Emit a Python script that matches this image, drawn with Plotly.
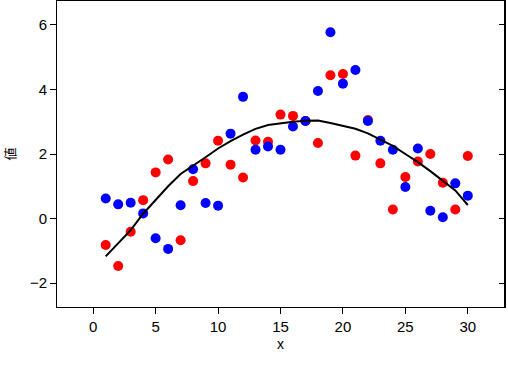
import plotly.graph_objects as go

x_vals = list(range(1, 31))
blue_y = [0.62, 0.44, 0.49, 0.16, -0.61, -0.94, 0.41, 1.53, 0.48, 0.40,
          2.63, 3.77, 2.13, 2.23, 2.13, 2.85, 3.02, 3.95, 5.77, 4.18,
          4.60, 3.02, 2.41, 2.13, 0.98, 2.17, 0.24, 0.04, 1.09, 0.71]
red_y = [-0.82, -1.47, -0.41, 0.57, 1.43, 1.83, -0.67, 1.16, 1.71, 2.41,
         1.67, 1.27, 2.42, 2.38, 3.22, 3.18, 3.02, 2.34, 4.44, 4.48,
         1.95, 3.05, 1.71, 0.28, 1.29, 1.77, 2.00, 1.11, 0.28, 1.94]
curve_y = [-1.17, -0.76, -0.36, 0.15, 0.58, 1.00, 1.38, 1.63, 1.90, 2.17,
           2.40, 2.60, 2.78, 2.90, 2.96, 3.00, 3.03, 3.04, 2.96, 2.88,
           2.78, 2.64, 2.44, 2.25, 2.00, 1.75, 1.47, 1.17, 0.87, 0.42]
x_ticks = [0, 5, 10, 15, 20, 25, 30]
y_ticks = [-2, 0, 2, 4, 6]

fig = go.Figure()
fig.add_trace(go.Scatter(x=x_vals, y=red_y, mode="markers",
                         marker=dict(color="#ff0000", size=10, line=dict(width=0)),
                         showlegend=False))
fig.add_trace(go.Scatter(x=x_vals, y=blue_y, mode="markers",
                         marker=dict(color="#0000ff", size=10, line=dict(width=0)),
                         showlegend=False))
fig.add_trace(go.Scatter(x=x_vals, y=curve_y, mode="lines",
                         line=dict(color="black", width=2),
                         showlegend=False))
# invisible trace for right axis
fig.add_trace(go.Scatter(x=[None], y=[None], yaxis="y2", showlegend=False))

font = dict(family="Liberation Sans, Arial, sans-serif", size=15, color="black")

fig.update_layout(
    width=508, height=370,
    margin=dict(l=57, r=4, t=1, b=63),
    plot_bgcolor="white", paper_bgcolor="white",
    font=font,
    xaxis=dict(range=[-2.9, 32.9], tickvals=x_ticks, ticks="outside", ticklen=6,
               tickcolor="black", showline=True, linecolor="black", linewidth=1,
               mirror=True, showgrid=False, zeroline=False, automargin=False,
               title=dict(text="x", font=dict(size=14), standoff=5)),
    yaxis=dict(range=[-2.74, 6.74], tickvals=y_ticks, ticks="outside", ticklen=6,
               tickcolor="black", showline=True, linecolor="black", linewidth=1,
               showgrid=False, zeroline=False, automargin=False,
               title=dict(text="値", font=dict(family="Noto Sans CJK JP", size=13), standoff=14)),
    yaxis2=dict(range=[-2.74, 6.74], tickvals=y_ticks, ticks="inside", ticklen=5,
                tickcolor="black", showline=True, linecolor="black", linewidth=2,
                showticklabels=False, showgrid=False, zeroline=False, automargin=False,
                overlaying="y", side="right"),
)

fig.write_html("out.html",
               config={"displayModeBar": False},
               post_script="document.body.style.margin='0';document.body.style.overflow='hidden';")
